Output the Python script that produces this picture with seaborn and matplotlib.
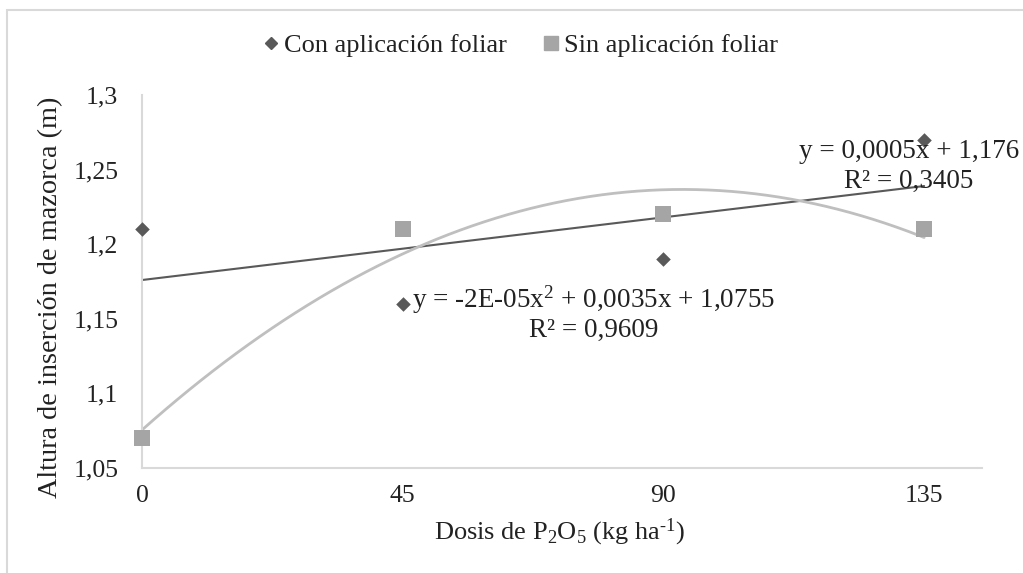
import numpy as np
import pandas as pd
import seaborn as sns
import matplotlib.pyplot as plt
from matplotlib.patches import Rectangle

# datos
dosis = [0, 45, 90, 135]
con_foliar = [1.21, 1.16, 1.19, 1.27]
sin_foliar = [1.07, 1.21, 1.22, 1.21]
series = ['Con aplicación foliar', 'Sin aplicación foliar']
x_ticks = [0, 45, 90, 135]
y_ticks = [1.05, 1.1, 1.15, 1.2, 1.25, 1.3]
y_labels = ['1,05', '1,1', '1,15', '1,2', '1,25', '1,3']

sns.set_theme(style='white')
plt.rcParams['font.family'] = ['Liberation Serif', 'DejaVu Serif']
plt.rcParams['mathtext.fontset'] = 'custom'
plt.rcParams['mathtext.rm'] = 'Liberation Serif'
plt.rcParams['mathtext.it'] = 'Liberation Serif:italic'
plt.rcParams['mathtext.default'] = 'regular'

df_con = pd.DataFrame({'dosis': dosis, 'altura': con_foliar})
df_sin = pd.DataFrame({'dosis': dosis, 'altura': sin_foliar})

fig = plt.figure(figsize=(10.23, 5.73), dpi=100)
ax = fig.add_axes([0.1388, 0.1832, 0.8212, 0.6510])

# líneas de tendencia (lineal y polinómica de orden 2)
xs = np.linspace(0, 135, 200)
lin = np.polyfit(dosis, con_foliar, 1)
pol = np.polyfit(dosis, sin_foliar, 2)
sns.lineplot(x=xs, y=np.polyval(lin, xs), color='#595959', lw=1.5, ax=ax, zorder=2)
sns.lineplot(x=xs, y=np.polyval(pol, xs), color='#BFBFBF', lw=2, ax=ax, zorder=2)

sns.scatterplot(data=df_con, x='dosis', y='altura', marker='D', s=55, color='#595959',
                linewidth=0, ax=ax, zorder=3, legend=False, clip_on=False)
sns.scatterplot(data=df_sin, x='dosis', y='altura', marker='s', s=125, color='#A5A5A5',
                linewidth=0, ax=ax, zorder=3, legend=False, clip_on=False)

ax.set_xlim(0, 145)
ax.set_ylim(1.05, 1.3)
ax.set_xticks(x_ticks)
ax.set_xticklabels([str(v) for v in x_ticks])
ax.set_yticks(y_ticks)
ax.set_yticklabels(y_labels)
ax.tick_params(length=0, labelsize=18.5, colors='#222222')
ax.tick_params(axis='x', pad=12)
ax.tick_params(axis='y', pad=17)
for side in ['top', 'right']:
    ax.spines[side].set_visible(False)
for side in ['left', 'bottom']:
    ax.spines[side].set_color('#D9D9D9')
    ax.spines[side].set_linewidth(1.5)

ax.set_xlabel('Dosis de P$_2$O$_5$ (kg ha$^{\u2010 1}$)', fontsize=19, color='#222222')
ax.set_ylabel('Altura de inserción de mazorca (m)', fontsize=20.3, color='#222222')
ax.xaxis.set_label_coords(0.497, -0.13)
ax.yaxis.set_label_coords(-0.094, 0.458)

# ecuaciones de las tendencias
ax.text(132.4, 1.2623, 'y = 0,0005x + 1,176', ha='center', va='center', fontsize=19.5, color='#222222')
ax.text(132.4, 1.242, 'R² = 0,3405', ha='center', va='center', fontsize=19.5, color='#222222')
ax.text(77.9, 1.1625, 'y = -2E-05x$^2$ + 0,0035x + 1,0755', ha='center', va='center', fontsize=19.5, color='#222222')
ax.text(77.9, 1.1425, 'R² = 0,9609', ha='center', va='center', fontsize=19.5, color='#222222')

handles = [
    plt.Line2D([], [], marker='D', color='#595959', ls='', markersize=6.5),
    plt.Line2D([], [], marker='s', color='#A5A5A5', ls='', markersize=10),
]
fig.legend(handles, series, loc='center', bbox_to_anchor=(0.508, 0.921), ncol=2,
           frameon=False, fontsize=19, handlelength=0.7, handletextpad=0.15,
           columnspacing=1.3, labelcolor='#222222')

# borde del área del gráfico
fig.patches.append(Rectangle((0.0068, -0.1), 1.2, 1.1 - 0.0175, transform=fig.transFigure,
                             fill=False, edgecolor='#D9D9D9', lw=1.5))

fig.savefig('out.png', dpi=100)
